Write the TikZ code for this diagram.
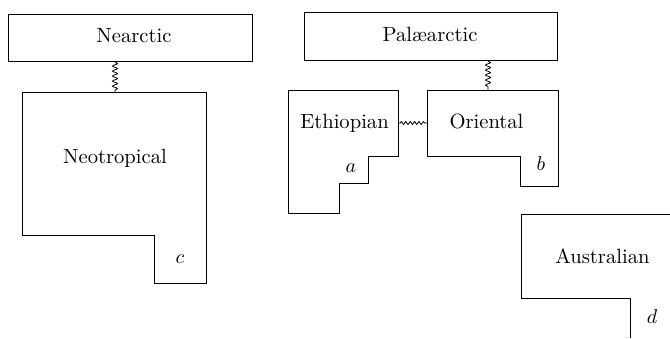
\documentclass[tikz,border=0pt]{standalone}
\usetikzlibrary{decorations.pathmorphing}
\begin{document}
\begin{tikzpicture}[x=0.5pt,y=-0.5pt,
  region/.style={draw=black,line width=0.48pt,line join=miter},
  lbl/.style={anchor=base,inner sep=0pt,font=\fontsize{10.3}{12}\selectfont},
  tag/.style={anchor=base,inner sep=0pt,font=\fontsize{10.3}{12}\selectfont},
  topbox/.style={draw=black,line width=0.48pt,rectangle,inner sep=0pt},
  wavy/.style={draw=black,line width=0.4pt,decorate,
    decoration={snake,segment length=2.5pt,amplitude=1.25pt,pre length=0.5pt,post length=0.5pt}}]
\useasboundingbox (0,0) rectangle (670,338);
% top boxes
\node[topbox,minimum width=122pt,minimum height=23.5pt] (nearctic) at (130,37.5) {};
\node[lbl] (nearcticT) at (134,42) {Nearctic};
\node[topbox,minimum width=126.5pt,minimum height=24pt] (palae) at (430.5,36) {};
\node[lbl] (palaeT) at (430,41) {Pal\ae arctic};
% Neotropical
\draw[region] (22,92) -- (206,92) -- (206,283) -- (154,283) -- (154,235) -- (22,235) -- cycle;
\node[lbl] (neotrop) at (115,163) {Neotropical};
\node[tag] (c) at (180,263) {$c$};
\coordinate (neotop) at (115,92);
\coordinate (neoN) at (115,61);
% Ethiopian
\draw[region] (288,90) -- (398,90) -- (398,156) -- (368,156) -- (368,183) -- (339,183) -- (339,213) -- (288,213) -- cycle;
\node[lbl] (ethio) at (344.5,128) {Ethiopian};
\node[tag] (a) at (351,172) {$a$};
\coordinate (ethE) at (398,123);
% Oriental
\draw[region] (427,90) -- (558,90) -- (558,186) -- (520,186) -- (520,156) -- (427,156) -- cycle;
\node[lbl] (orient) at (486.5,128) {Oriental};
\node[tag] (b) at (541,170) {$b$};
\coordinate (oriW) at (427,123);
\coordinate (oriN) at (488,90);
\coordinate (palS) at (488,60);
% Australian
\draw[region] (670,214) -- (521,214) -- (521,298) -- (630,298) -- (630,338);
\node[lbl] (austr) at (602.5,263) {Australian};
\node[tag] (d) at (652,323) {$d$};
% wavy connectors
\draw[wavy] (neoN) -- (neotop);
\draw[wavy] (palS) -- (oriN);
\draw[wavy,decoration={snake,segment length=2.2pt,amplitude=0.75pt,pre length=1pt,post length=0.5pt}] (ethE) -- (oriW);
\end{tikzpicture}
\end{document}
